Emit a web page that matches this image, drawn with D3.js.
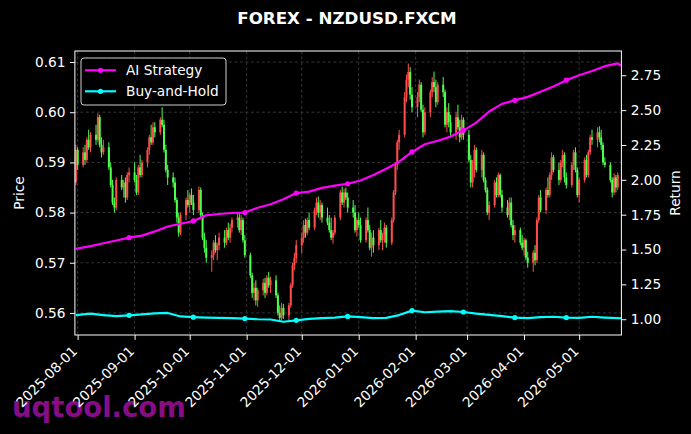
<!DOCTYPE html>
<html><head><meta charset="utf-8">
<script src="https://cdn.jsdelivr.net/npm/d3@7"></script>
<style>html,body{margin:0;padding:0;background:#000;}svg{display:block;}</style>
</head><body>
<svg id="chart" width="691" height="434"></svg>
<script>
// ---------- DATA ----------
const dates = [
"2025-07-31","2025-08-01",
"2025-08-04","2025-08-05","2025-08-06","2025-08-07","2025-08-08",
"2025-08-11","2025-08-12","2025-08-13","2025-08-14","2025-08-15",
"2025-08-18","2025-08-19","2025-08-20","2025-08-21","2025-08-22",
"2025-08-25","2025-08-26","2025-08-27","2025-08-28","2025-08-29",
"2025-09-01","2025-09-02","2025-09-03","2025-09-04","2025-09-05",
"2025-09-08","2025-09-09","2025-09-10","2025-09-11","2025-09-12",
"2025-09-15","2025-09-16","2025-09-17","2025-09-18","2025-09-19",
"2025-09-22","2025-09-23","2025-09-24","2025-09-25","2025-09-26",
"2025-09-29","2025-09-30","2025-10-01","2025-10-02","2025-10-03",
"2025-10-06","2025-10-07","2025-10-08","2025-10-09","2025-10-10",
"2025-10-13","2025-10-14","2025-10-15","2025-10-16","2025-10-17",
"2025-10-20","2025-10-21","2025-10-22","2025-10-23","2025-10-24",
"2025-10-27","2025-10-28","2025-10-29","2025-10-30","2025-10-31",
"2025-11-03","2025-11-04","2025-11-05","2025-11-06","2025-11-07",
"2025-11-10","2025-11-11","2025-11-12","2025-11-13","2025-11-14",
"2025-11-17","2025-11-18","2025-11-19","2025-11-20","2025-11-21",
"2025-11-24","2025-11-25","2025-11-26","2025-11-27","2025-11-28",
"2025-12-01","2025-12-02","2025-12-03","2025-12-04","2025-12-05",
"2025-12-08","2025-12-09","2025-12-10","2025-12-11","2025-12-12",
"2025-12-15","2025-12-16","2025-12-17","2025-12-18","2025-12-19",
"2025-12-22","2025-12-23","2025-12-24","2025-12-25","2025-12-26",
"2025-12-29","2025-12-30","2025-12-31","2026-01-01","2026-01-02",
"2026-01-05","2026-01-06","2026-01-07","2026-01-08","2026-01-09",
"2026-01-12","2026-01-13","2026-01-14","2026-01-15","2026-01-16",
"2026-01-19","2026-01-20","2026-01-21","2026-01-22","2026-01-23",
"2026-01-26","2026-01-27","2026-01-28","2026-01-29","2026-01-30",
"2026-02-02","2026-02-03","2026-02-04","2026-02-05","2026-02-06",
"2026-02-09","2026-02-10","2026-02-11","2026-02-12","2026-02-13",
"2026-02-16","2026-02-17","2026-02-18","2026-02-19","2026-02-20",
"2026-02-23","2026-02-24","2026-02-25","2026-02-26","2026-02-27",
"2026-03-02","2026-03-03","2026-03-04","2026-03-05","2026-03-06",
"2026-03-09","2026-03-10","2026-03-11","2026-03-12","2026-03-13",
"2026-03-16","2026-03-17","2026-03-18","2026-03-19","2026-03-20",
"2026-03-23","2026-03-24","2026-03-25","2026-03-26","2026-03-27",
"2026-03-30","2026-03-31","2026-04-01","2026-04-02","2026-04-03",
"2026-04-06","2026-04-07","2026-04-08","2026-04-09","2026-04-10",
"2026-04-13","2026-04-14","2026-04-15","2026-04-16","2026-04-17",
"2026-04-20","2026-04-21","2026-04-22","2026-04-23","2026-04-24",
"2026-04-27","2026-04-28","2026-04-29","2026-04-30","2026-05-01",
"2026-05-04","2026-05-05","2026-05-06","2026-05-07","2026-05-08",
"2026-05-11","2026-05-12","2026-05-13","2026-05-14","2026-05-15",
"2026-05-18","2026-05-19","2026-05-20","2026-05-21","2026-05-22"
];
const open = [
.5860,.5925,
.5895,.5920,.5905,.5945,.5930,
.5955,.5945,.5990,.5935,.5920,
.5930,.5890,.5855,.5820,.5810,
.5865,.5850,.5860,.5830,.5875,
.5880,.5865,.5840,.5890,.5875,
.5900,.5925,.5950,.5940,.5970,
.5960,.5985,.5975,.5925,.5885,
.5870,.5860,.5825,.5790,.5760,
.5795,.5825,.5815,.5835,.5820,
.5805,.5845,.5795,.5750,.5730,
.5710,.5715,.5740,.5725,.5735,
.5750,.5740,.5765,.5750,.5770,
.5785,.5790,.5765,.5785,.5745,
.5715,.5675,.5640,.5650,.5625,
.5645,.5660,.5640,.5670,.5655,
.5665,.5635,.5600,.5590,.5610,
.5595,.5615,.5655,.5695,.5710,
.5735,.5750,.5775,.5760,.5785,
.5770,.5805,.5820,.5800,.5815,
.5790,.5780,.5765,.5750,.5760,
.5790,.5840,.5820,.5840,.5830,
.5810,.5800,.5765,.5785,.5775,
.5745,.5785,.5765,.5730,.5750,
.5735,.5765,.5745,.5755,.5770,
.5740,.5785,.5840,.5895,.5940,
.5955,.6030,.6065,.6080,.6035,
.6010,.6030,.6055,.6005,.5960,
.6000,.6040,.6060,.6050,.6020,
.6055,.6040,.5975,.6000,.5980,
.5960,.5990,.5970,.5950,.5985,
.5955,.5905,.5860,.5895,.5925,
.5885,.5915,.5865,.5845,.5800,
.5815,.5860,.5835,.5875,.5835,
.5810,.5795,.5820,.5775,.5755,
.5765,.5740,.5730,.5745,.5710,
.5700,.5720,.5705,.5785,.5830,
.5805,.5845,.5835,.5875,.5910,
.5885,.5865,.5900,.5915,.5870,
.5855,.5895,.5920,.5885,.5835,
.5865,.5905,.5875,.5920,.5950,
.5945,.5960,.5950,.5935,.5900,
.5895,.5865,.5840,.5870,.5850
];
const high = [
.5935,.5930,
.5930,.5935,.5950,.5965,.5960,
.5975,.5998,.5995,.5950,.5945,
.5940,.5900,.5865,.5830,.5870,
.5875,.5865,.5870,.5880,.5890,
.5900,.5875,.5895,.5915,.5905,
.5930,.5955,.5975,.5980,.5980,
.5990,.6010,.5985,.5935,.5895,
.5880,.5870,.5830,.5800,.5800,
.5830,.5845,.5840,.5848,.5835,
.5852,.5850,.5800,.5760,.5745,
.5725,.5745,.5755,.5740,.5760,
.5765,.5770,.5780,.5778,.5790,
.5800,.5800,.5795,.5790,.5755,
.5720,.5680,.5660,.5665,.5650,
.5668,.5670,.5675,.5682,.5672,
.5675,.5640,.5615,.5620,.5618,
.5620,.5660,.5700,.5720,.5745,
.5760,.5785,.5788,.5790,.5800,
.5810,.5830,.5832,.5825,.5820,
.5810,.5795,.5790,.5765,.5795,
.5845,.5852,.5848,.5850,.5840,
.5825,.5815,.5790,.5800,.5790,
.5790,.5810,.5775,.5760,.5765,
.5770,.5785,.5760,.5780,.5775,
.5790,.5845,.5900,.5945,.5965,
.6040,.6075,.6097,.6090,.6050,
.6040,.6065,.6060,.6015,.6010,
.6045,.6070,.6081,.6065,.6060,
.6070,.6045,.6010,.6018,.5995,
.6000,.6015,.5985,.5995,.5990,
.5965,.5915,.5905,.5935,.5930,
.5925,.5920,.5870,.5850,.5822,
.5865,.5870,.5880,.5878,.5845,
.5825,.5830,.5830,.5785,.5775,
.5770,.5755,.5750,.5748,.5722,
.5725,.5735,.5790,.5835,.5845,
.5850,.5870,.5880,.5920,.5915,
.5900,.5905,.5925,.5920,.5880,
.5900,.5925,.5930,.5890,.5870,
.5910,.5915,.5925,.5955,.5965,
.5970,.5972,.5965,.5940,.5910,
.5900,.5870,.5878,.5875,.5880
];
const low = [
.5855,.5885,
.5890,.5895,.5900,.5925,.5920,
.5935,.5940,.5930,.5910,.5915,
.5885,.5850,.5815,.5800,.5805,
.5845,.5830,.5820,.5825,.5860,
.5860,.5835,.5835,.5870,.5870,
.5890,.5915,.5935,.5935,.5950,
.5955,.5970,.5920,.5880,.5855,
.5850,.5820,.5780,.5752,.5755,
.5785,.5810,.5800,.5815,.5795,
.5800,.5790,.5745,.5720,.5700,
.5682,.5705,.5720,.5705,.5725,
.5730,.5735,.5745,.5740,.5760,
.5770,.5760,.5755,.5740,.5710,
.5670,.5630,.5625,.5615,.5612,
.5635,.5630,.5635,.5650,.5640,
.5630,.5595,.5585,.5585,.5588,
.5585,.5610,.5650,.5685,.5700,
.5718,.5740,.5750,.5755,.5765,
.5765,.5795,.5790,.5785,.5780,
.5775,.5760,.5745,.5738,.5755,
.5785,.5815,.5810,.5825,.5800,
.5790,.5760,.5752,.5770,.5740,
.5740,.5760,.5725,.5712,.5720,
.5725,.5740,.5725,.5740,.5730,
.5735,.5780,.5835,.5885,.5925,
.5950,.6020,.6050,.6025,.6000,
.5990,.6020,.6000,.5950,.5955,
.5990,.6030,.6040,.6010,.6015,
.6030,.5970,.5960,.5970,.5950,
.5945,.5965,.5940,.5945,.5945,
.5900,.5850,.5850,.5870,.5880,
.5870,.5860,.5840,.5795,.5785,
.5810,.5830,.5830,.5830,.5800,
.5790,.5785,.5770,.5745,.5740,
.5735,.5725,.5715,.5705,.5690,
.5682,.5695,.5700,.5780,.5800,
.5797,.5830,.5830,.5865,.5880,
.5855,.5860,.5890,.5860,.5848,
.5850,.5885,.5880,.5830,.5820,
.5860,.5870,.5870,.5915,.5935,
.5930,.5940,.5925,.5895,.5890,
.5860,.5830,.5835,.5840,.5845
];
const close = [
.5925,.5895,
.5920,.5905,.5945,.5930,.5955,
.5945,.5990,.5935,.5920,.5930,
.5890,.5855,.5820,.5810,.5865,
.5850,.5860,.5830,.5875,.5880,
.5865,.5840,.5890,.5875,.5900,
.5925,.5950,.5940,.5970,.5960,
.5985,.5975,.5925,.5885,.5870,
.5860,.5825,.5790,.5760,.5795,
.5825,.5815,.5835,.5820,.5805,
.5845,.5795,.5750,.5730,.5710,
.5715,.5740,.5725,.5735,.5750,
.5740,.5765,.5750,.5770,.5785,
.5790,.5765,.5785,.5745,.5715,
.5675,.5640,.5650,.5625,.5645,
.5660,.5640,.5670,.5655,.5665,
.5635,.5600,.5590,.5610,.5595,
.5615,.5655,.5695,.5710,.5735,
.5750,.5775,.5760,.5785,.5770,
.5805,.5820,.5800,.5815,.5790,
.5780,.5765,.5750,.5760,.5790,
.5840,.5820,.5840,.5830,.5810,
.5800,.5765,.5785,.5775,.5745,
.5785,.5765,.5730,.5750,.5735,
.5765,.5745,.5755,.5770,.5740,
.5785,.5840,.5895,.5940,.5955,
.6030,.6065,.6080,.6035,.6010,
.6030,.6055,.6005,.5960,.6000,
.6040,.6060,.6050,.6020,.6055,
.6040,.5975,.6000,.5980,.5960,
.5990,.5970,.5950,.5985,.5955,
.5905,.5860,.5895,.5925,.5885,
.5915,.5865,.5845,.5800,.5815,
.5860,.5835,.5875,.5835,.5810,
.5795,.5820,.5775,.5755,.5765,
.5740,.5730,.5745,.5710,.5700,
.5720,.5705,.5785,.5830,.5805,
.5845,.5835,.5875,.5910,.5885,
.5865,.5900,.5915,.5870,.5855,
.5895,.5920,.5885,.5835,.5865,
.5905,.5875,.5920,.5950,.5945,
.5960,.5950,.5935,.5900,.5895,
.5865,.5840,.5870,.5850,.5875
];
const lineDates = [
"2025-07-31","2025-08-08","2025-08-15","2025-08-22","2025-08-29","2025-09-05","2025-09-12","2025-09-19","2025-09-26",
"2025-10-03","2025-10-10","2025-10-17","2025-10-24","2025-10-31","2025-11-07","2025-11-14","2025-11-21","2025-11-28",
"2025-12-05","2025-12-12","2025-12-19","2025-12-26","2026-01-02","2026-01-09","2026-01-16","2026-01-23","2026-01-30",
"2026-02-06","2026-02-13","2026-02-20","2026-02-27","2026-03-06","2026-03-13","2026-03-20","2026-03-27","2026-04-03",
"2026-04-10","2026-04-17","2026-04-24","2026-05-01","2026-05-08","2026-05-15","2026-05-22","2026-05-24"
];
const aiStrategy = [
1.505,1.525,1.545,1.565,1.585,1.600,1.630,1.665,1.685,
1.705,1.745,1.755,1.762,1.765,1.800,1.825,1.860,1.905,
1.915,1.942,1.958,1.972,1.995,2.035,2.080,2.130,2.200,
2.255,2.280,2.310,2.355,2.410,2.490,2.545,2.570,2.595,
2.632,2.670,2.715,2.750,2.780,2.815,2.835,2.818
];
const buyHold = [
1.030,1.040,1.030,1.022,1.028,1.035,1.042,1.045,1.020,
1.015,1.012,1.010,1.008,1.005,1.000,0.998,0.982,0.992,
1.002,1.008,1.012,1.020,1.015,1.008,1.010,1.030,1.062,
1.050,1.055,1.058,1.052,1.040,1.032,1.022,1.012,1.008,
1.015,1.018,1.012,1.010,1.018,1.012,1.008,1.007
];
const markerIdx = [4, 9, 13, 17, 21, 26, 30, 34, 38];
const priceTicks = [0.56, 0.57, 0.58, 0.59, 0.60, 0.61];
const returnTicks = [1.00, 1.25, 1.50, 1.75, 2.00, 2.25, 2.50, 2.75];
const seriesNames = ["AI Strategy", "Buy-and-Hold"];
const titleText = "FOREX - NZDUSD.FXCM";

// ---------- LAYOUT ----------
const W = 691, H = 434;
const L = 74.9, R = 621.4, T = 51, B = 335;
const FONT = "DejaVu Sans, Verdana, sans-serif";
const FS = 13.7;
const UP = "#ff4d4d", DOWN = "#4dff4d";
const C_AI = "#ff00ff", C_BH = "#00ffff";

const parse = d3.timeParse("%Y-%m-%d");
const svg = d3.select("#chart");
svg.append("rect").attr("width", W).attr("height", H).attr("fill", "#000");

const x = d3.scaleTime()
  .domain([new Date(2025, 6, 30, 12), new Date(2026, 4, 24)])
  .range([L, R]);
const yP = d3.scaleLinear().domain([0.5556, 0.6122]).range([B, T]);
const yR = d3.scaleLinear().domain([0.887, 2.924]).range([B, T]);

// watermark (behind tick labels)
svg.append("text").attr("x", 12).attr("y", 417)
  .attr("font-family", FONT).attr("font-weight", "bold").attr("font-size", 27.5)
  .attr("fill", "#860d86").text("uqtool.com");

// grid
const monthTicks = x.ticks(d3.timeMonth.every(1));
const grid = svg.append("g").attr("stroke", "#4a4a4a").attr("stroke-width", 0.7)
  .attr("stroke-dasharray", "3,2.5");
grid.selectAll("line.v").data(monthTicks).join("line")
  .attr("x1", d => x(d)).attr("x2", d => x(d)).attr("y1", T).attr("y2", B);
grid.selectAll("line.h").data(priceTicks).join("line")
  .attr("x1", L).attr("x2", R).attr("y1", d => yP(d)).attr("y2", d => yP(d));

// candles
const candles = dates.map((d, i) => ({ date: parse(d), o: open[i], h: high[i], l: low[i], c: close[i] }));
const cg = svg.append("g");
cg.selectAll("line").data(candles).join("line")
  .attr("x1", d => x(d.date)).attr("x2", d => x(d.date))
  .attr("y1", d => yP(d.h)).attr("y2", d => yP(d.l))
  .attr("stroke", d => d.c >= d.o ? UP : DOWN).attr("stroke-width", 1);
cg.selectAll("rect").data(candles).join("rect")
  .attr("x", d => x(d.date) - 1)
  .attr("width", 2)
  .attr("y", d => yP(Math.max(d.o, d.c)))
  .attr("height", d => Math.max(1, Math.abs(yP(d.o) - yP(d.c))))
  .attr("fill", d => d.c >= d.o ? UP : DOWN);

// return lines
const lpts = lineDates.map(parse);
const series = [
  { name: seriesNames[0], vals: aiStrategy, color: C_AI },
  { name: seriesNames[1], vals: buyHold, color: C_BH }
];
const lineGen = d3.line().x(d => x(d[0])).y(d => yR(d[1]));
series.forEach(s => {
  const pts = lpts.map((d, i) => [d, s.vals[i]]);
  svg.append("path").datum(pts).attr("d", lineGen)
    .attr("fill", "none").attr("stroke", s.color).attr("stroke-width", 2.2)
    .attr("stroke-linejoin", "round");
  svg.append("g").selectAll("circle").data(markerIdx.map(i => pts[i])).join("circle")
    .attr("cx", d => x(d[0])).attr("cy", d => yR(d[1])).attr("r", 2.6)
    .attr("fill", s.color);
});

// spines
svg.append("rect").attr("x", L).attr("y", T).attr("width", R - L).attr("height", B - T)
  .attr("fill", "none").attr("stroke", "#fff").attr("stroke-width", 1);

// axes
function styleAxis(g) {
  g.select(".domain").remove();
  g.selectAll(".tick line").attr("stroke", "#fff");
  g.selectAll(".tick text").attr("fill", "#fff").attr("font-family", FONT).attr("font-size", FS);
}
svg.append("g").attr("transform", `translate(${L},0)`)
  .call(d3.axisLeft(yP).tickValues(priceTicks).tickFormat(d3.format(".2f")).tickSize(4.9).tickPadding(4.5))
  .call(styleAxis);
svg.append("g").attr("transform", `translate(${R},0)`)
  .call(d3.axisRight(yR).tickValues(returnTicks).tickFormat(d3.format(".2f")).tickSize(4.9).tickPadding(4.5))
  .call(styleAxis);
const xa = svg.append("g").attr("transform", `translate(0,${B})`)
  .call(d3.axisBottom(x).tickValues(monthTicks).tickFormat(d3.timeFormat("%Y-%m-%d")).tickSize(4.9))
  .call(styleAxis);
xa.selectAll(".tick text")
  .attr("text-anchor", "end")
  .attr("dy", null).attr("y", null)
  .attr("transform", "translate(0,17) rotate(-45)")
  .attr("dominant-baseline", "auto");

// axis labels
svg.append("text").attr("transform", `translate(24,${(T + B) / 2}) rotate(-90)`)
  .attr("text-anchor", "middle").attr("fill", "#fff").attr("font-family", FONT).attr("font-size", FS)
  .text("Price");
svg.append("text").attr("transform", `translate(680,${(T + B) / 2}) rotate(-90)`)
  .attr("text-anchor", "middle").attr("fill", "#fff").attr("font-family", FONT).attr("font-size", FS)
  .text("Return");

// title
svg.append("text").attr("x", 347).attr("y", 24).attr("text-anchor", "middle")
  .attr("fill", "#fff").attr("font-family", FONT).attr("font-weight", "bold").attr("font-size", 16.7)
  .text(titleText);

// legend
const lg = svg.append("g");
lg.append("rect").attr("x", 81).attr("y", 58).attr("width", 145).attr("height", 47).attr("rx", 3)
  .attr("fill", "#000").attr("fill-opacity", 0.85).attr("stroke", "#cfcfcf").attr("stroke-width", 1);
series.forEach((s, i) => {
  const yy = 70.3 + i * 21;
  lg.append("line").attr("x1", 85).attr("x2", 116).attr("y1", yy).attr("y2", yy)
    .attr("stroke", s.color).attr("stroke-width", 2.2);
  lg.append("circle").attr("cx", 100.5).attr("cy", yy).attr("r", 2.6).attr("fill", s.color);
  lg.append("text").attr("x", 126).attr("y", yy).attr("dy", "0.36em")
    .attr("fill", "#fff").attr("font-family", FONT).attr("font-size", FS).text(s.name);
});
</script>
</body></html>
